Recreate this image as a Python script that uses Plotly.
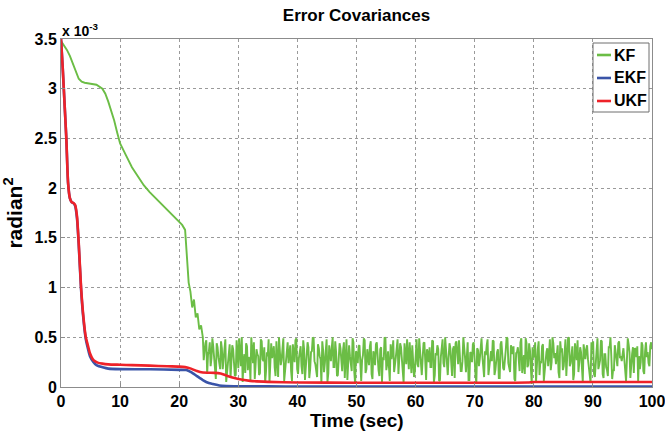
import plotly.graph_objects as go

# ---------------- data (values in units of 1e-3 rad^2) ----------------
kf_t_smooth = [0, 0.5, 1, 1.5, 2, 2.5, 3, 3.5, 4, 5, 6, 7, 7.5, 8, 8.5, 9, 9.5, 10,
               11, 12, 13, 14, 15, 16, 17, 18, 19, 20, 20.5, 21, 21.3, 21.6, 21.9,
               22.2, 22.5, 22.8, 23.1, 23.4, 23.7]
kf_v_smooth = [3.48, 3.44, 3.39, 3.33, 3.25, 3.17, 3.10, 3.07, 3.06, 3.05, 3.04, 3.00,
               2.95, 2.87, 2.78, 2.68, 2.56, 2.45, 2.33, 2.21, 2.12, 2.03, 1.96, 1.90,
               1.84, 1.78, 1.72, 1.66, 1.63, 1.58, 1.30, 1.05, 0.96, 0.80, 0.88, 0.70,
               0.74, 0.58, 0.62]
kf_noise_start = 24.0
kf_noise_end = 100.0
kf_v_noise = [
    0.50, 0.27, 0.38, 0.44, 0.47, 0.13, 0.33, 0.36, 0.45, 0.21, 0.29, 0.49, 0.41, 0.32, 0.22, 0.08, 0.44, 0.40, 0.30, 0.25,
    0.18, 0.46, 0.39, 0.18, 0.26, 0.34, 0.48, 0.05, 0.15, 0.29, 0.35, 0.43, 0.09, 0.22, 0.42, 0.38, 0.27, 0.11, 0.12, 0.47,
    0.36, 0.19, 0.49, 0.35, 0.21, 0.50, 0.05, 0.26, 0.33, 0.14, 0.44, 0.41, 0.17, 0.30, 0.28, 0.07, 0.50, 0.37, 0.24, 0.45,
    0.08, 0.23, 0.38, 0.33, 0.31, 0.12, 0.14, 0.48, 0.46, 0.28, 0.26, 0.40, 0.04, 0.16, 0.35, 0.31, 0.48, 0.04, 0.19, 0.44,
    0.29, 0.34, 0.41, 0.20, 0.11, 0.46, 0.33, 0.10, 0.50, 0.39, 0.22, 0.27, 0.37, 0.49, 0.06, 0.15, 0.27, 0.36, 0.45, 0.24,
    0.32, 0.42, 0.16, 0.06, 0.43, 0.32, 0.25, 0.47, 0.49, 0.18, 0.13, 0.29, 0.34, 0.41, 0.21, 0.13, 0.47, 0.38, 0.07, 0.22,
    0.30, 0.45, 0.40, 0.09, 0.18, 0.35, 0.36, 0.50, 0.49, 0.26, 0.23, 0.17, 0.10, 0.43, 0.39, 0.31, 0.28, 0.03, 0.46, 0.37,
    0.15, 0.24, 0.33, 0.48, 0.05, 0.14, 0.42, 0.33, 0.26, 0.40, 0.50, 0.20, 0.20, 0.46, 0.35, 0.11, 0.12, 0.28, 0.44, 0.39,
    0.29, 0.16, 0.37, 0.45, 0.09, 0.30, 0.48, 0.07, 0.24, 0.42, 0.31, 0.25, 0.16, 0.49, 0.45, 0.15, 0.03, 0.36, 0.34, 0.24,
    0.41, 0.42, 0.19, 0.06, 0.27, 0.32, 0.49, 0.47, 0.14, 0.18, 0.38, 0.29, 0.22, 0.41, 0.46, 0.13, 0.08, 0.36, 0.32, 0.22,
    0.43, 0.45, 0.25, 0.17, 0.11, 0.38, 0.40, 0.05, 0.30, 0.27, 0.50, 0.49, 0.17, 0.23, 0.36, 0.12, 0.06, 0.43, 0.28, 0.36,
    0.47, 0.15, 0.21, 0.30, 0.39, 0.48, 0.13, 0.26, 0.44, 0.40, 0.26, 0.19, 0.04, 0.44, 0.35, 0.23, 0.48, 0.30, 0.18, 0.45,
    0.31, 0.14, 0.42, 0.30, 0.10, 0.16, 0.37, 0.48, 0.23, 0.20, 0.49, 0.36, 0.15, 0.12, 0.29, 0.44, 0.45, 0.27, 0.07, 0.38,
    0.34, 0.25, 0.40, 0.20, 0.20, 0.47, 0.46, 0.05, 0.12, 0.34, 0.32, 0.42, 0.38, 0.06, 0.07, 0.30, 0.45, 0.48, 0.24, 0.20,
    0.50, 0.36, 0.18, 0.12, 0.30, 0.44, 0.39, 0.27, 0.11, 0.38, 0.41, 0.09, 0.44, 0.46, 0.28, 0.23, 0.47, 0.33, 0.16, 0.16,
    0.26, 0.50, 0.32, 0.29, 0.15, 0.41, 0.45, 0.07, 0.07, 0.35, 0.34, 0.25, 0.43, 0.45, 0.21, 0.13, 0.04, 0.39, 0.37, 0.21,
    0.28, 0.43, 0.49, 0.31, 0.19, 0.10, 0.36, 0.32, 0.42, 0.48, 0.12, 0.20, 0.33, 0.36, 0.26, 0.47, 0.46, 0.12, 0.17, 0.28,
    0.35, 0.38, 0.09, 0.09, 0.43, 0.46, 0.27, 0.19, 0.17, 0.33, 0.37, 0.50, 0.49, 0.24, 0.20, 0.15, 0.42, 0.39, 0.33, 0.41,
    0.08, 0.06, 0.34, 0.35, 0.40, 0.26, 0.16, 0.45, 0.49, 0.14, 0.28, 0.32, 0.13, 0.49, 0.44, 0.20, 0.22, 0.44, 0.37, 0.10,
    0.03, 0.40, 0.31, 0.30, 0.45, 0.05, 0.34, 0.38, 0.46, 0.12, 0.26, 0.24, 0.41, 0.43, 0.06, 0.16, 0.31, 0.35, 0.39, 0.21,
    0.33, 0.48, 0.17, 0.25, 0.50, 0.44, 0.29, 0.34, 0.23, 0.30, 0.42, 0.15, 0.09, 0.46, 0.35, 0.39, 0.17, 0.21, 0.38, 0.48,
    0.11, 0.28, 0.49, 0.50, 0.21, 0.24, 0.37, 0.41, 0.07, 0.13, 0.44, 0.32, 0.27, 0.47, 0.15, 0.25, 0.40, 0.35, 0.19, 0.05,
    0.43, 0.33, 0.28, 0.38, 0.42, 0.28, 0.17, 0.11, 0.04, 0.45, 0.37, 0.46, 0.13, 0.10, 0.29, 0.37, 0.49, 0.18, 0.22, 0.27,
    0.47, 0.46, 0.13, 0.09, 0.33, 0.33, 0.20, 0.17, 0.11, 0.40, 0.40, 0.50, 0.31, 0.08, 0.17, 0.16, 0.42, 0.33, 0.23, 0.21,
    0.44, 0.46, 0.29, 0.31, 0.26, 0.37, 0.39, 0.28, 0.14, 0.06, 0.27, 0.49, 0.43, 0.35, 0.09, 0.29, 0.33, 0.40, 0.14, 0.39,
    0.38, 0.30, 0.41, 0.06, 0.31, 0.18, 0.25, 0.45, 0.42, 0.16, 0.13, 0.36, 0.45, 0.30, 0.35, 0.24, 0.21, 0.41, 0.45, 0.38,
]

ekf_t = [0, 0.3, 0.6, 0.9, 1.2, 1.5, 1.8, 2.1, 2.4, 2.7, 3.0, 3.4, 3.8, 4.2, 4.5, 4.9,
         5.5, 6.0, 7.2, 8, 10, 15, 20, 21.2, 22, 23, 24, 25, 25.7, 26.8, 28, 30, 35, 40, 100]
ekf_v = [3.5, 3.2, 2.85, 2.5, 2.05, 1.9, 1.86, 1.85, 1.82, 1.70, 1.43, 0.98, 0.68, 0.48,
         0.40, 0.31, 0.25, 0.22, 0.195, 0.185, 0.18, 0.178, 0.172, 0.17, 0.15, 0.11, 0.07,
         0.04, 0.03, 0.015, 0.01, 0.008, 0.006, 0.005, 0.005]

ukf_t = [0, 0.3, 0.6, 0.9, 1.2, 1.5, 1.8, 2.1, 2.4, 2.7, 3.0, 3.4, 3.8, 4.2, 4.5, 4.9,
         5.5, 6.2, 7, 8, 10, 12, 15, 18, 20, 21, 22, 23, 24, 25, 26, 27, 28, 29, 30,
         32, 35, 40, 50, 60, 70, 79, 80, 90, 100]
ukf_v = [3.5, 3.2, 2.85, 2.5, 2.05, 1.9, 1.86, 1.85, 1.83, 1.72, 1.45, 1.0, 0.70, 0.50,
         0.43, 0.34, 0.27, 0.245, 0.235, 0.228, 0.224, 0.22, 0.215, 0.208, 0.205, 0.2,
         0.185, 0.16, 0.145, 0.143, 0.142, 0.135, 0.115, 0.095, 0.08, 0.062, 0.052,
         0.045, 0.043, 0.043, 0.043, 0.045, 0.05, 0.05, 0.05]

series_names = ["KF", "EKF", "UKF"]
x_ticks = [0, 10, 20, 30, 40, 50, 60, 70, 80, 90, 100]
y_ticks = [0, 0.5, 1, 1.5, 2, 2.5, 3, 3.5]
y_ticklabels = ["0", "0.5", "1", "1.5", "2", "2.5", "3", "3.5"]

# ---------------- build ----------------
n = len(kf_v_noise)
kf_t_noise = [kf_noise_start + (kf_noise_end - kf_noise_start) * i / (n - 1) for i in range(n)]
kf_t = kf_t_smooth + kf_t_noise
kf_v = kf_v_smooth + kf_v_noise

FONT = "Liberation Sans, Arial, sans-serif"
GREEN = "#6bbd45"
BLUE = "#3a54a8"
RED = "#ee2229"
COLORS = [GREEN, BLUE, RED]

# plot area in pixels
PL, PR, PT, PB = 61, 652, 39, 387
W, H = 665, 436


def px(xp):
    return (xp - PL) / (PR - PL)


def py(yp):
    return (PB - yp) / (PB - PT)


fig = go.Figure()
fig.add_trace(go.Scatter(x=kf_t, y=kf_v, mode="lines", name=series_names[0],
                         line=dict(color=GREEN, width=1.9)))
fig.add_trace(go.Scatter(x=ekf_t, y=ekf_v, mode="lines", name=series_names[1],
                         line=dict(color=BLUE, width=2.6, shape="spline", smoothing=0.6)))
fig.add_trace(go.Scatter(x=ukf_t, y=ukf_v, mode="lines", name=series_names[2],
                         line=dict(color=RED, width=2.6, shape="spline", smoothing=0.6)))

axis_common = dict(
    showgrid=True, gridcolor="#9a9a9a", griddash="dot", gridwidth=1,
    showline=True, linecolor="#8c8c8c", linewidth=1, mirror=True,
    zeroline=False, ticks="inside", ticklen=4, tickcolor="#8c8c8c",
    automargin=False, ticklabeloverflow="allow",
    tickfont=dict(family=FONT, size=16, color="black", weight="bold"),
)

# legend drawn as a boxed key in the top-right corner (as in the original)
shapes = [dict(type="rect", xref="paper", yref="paper",
               x0=px(593), x1=px(649), y0=py(112), y1=py(43),
               line=dict(color="#6e6e6e", width=1), fillcolor="white", layer="above")]
annotations = [
    dict(text="<b>x 10<sup>-3</sup></b>", xref="paper", yref="paper",
         x=0, y=1, xanchor="left", yanchor="bottom", showarrow=False,
         xshift=-1, yshift=-2,
         font=dict(family=FONT, size=14, color="black")),
    dict(text="<b>Time (sec)</b>", xref="paper", yref="paper",
         x=0.5, y=py(420), xanchor="center", yanchor="middle", showarrow=False,
         font=dict(family=FONT, size=19, color="black")),
]
entry_y = [55, 78, 101]
for name, col, ey in zip(series_names, COLORS, entry_y):
    shapes.append(dict(type="line", xref="paper", yref="paper",
                       x0=px(597), x1=px(611), y0=py(ey), y1=py(ey),
                       line=dict(color=col, width=2.6), layer="above"))
    annotations.append(dict(text="<b>%s</b>" % name, xref="paper", yref="paper",
                            x=px(612), y=py(ey), xanchor="left", yanchor="middle",
                            showarrow=False,
                            font=dict(family=FONT, size=16, color="black")))

fig.update_layout(
    width=W, height=H,
    margin=dict(l=PL, r=W - PR, t=PT, b=H - PB),
    paper_bgcolor="white", plot_bgcolor="white",
    showlegend=False,
    title=dict(text="<b>Error Covariances</b>", x=(PL + PR) / 2 / W, xanchor="center",
               y=1 - 15 / H, yanchor="middle",
               font=dict(family=FONT, size=17, color="black")),
    xaxis=dict(range=[0, 100], tickvals=x_ticks, **axis_common),
    yaxis=dict(range=[0, 3.5], tickvals=y_ticks, ticktext=y_ticklabels,
               title=dict(text="<b>radian<sup>2</sup></b>", standoff=8,
                          font=dict(family=FONT, size=21, color="black")),
               **axis_common),
    shapes=shapes,
    annotations=annotations,
)

fig.write_html("out.html", config={"displayModeBar": False},
               post_script="document.body.style.margin='0';document.body.style.padding='0';")
